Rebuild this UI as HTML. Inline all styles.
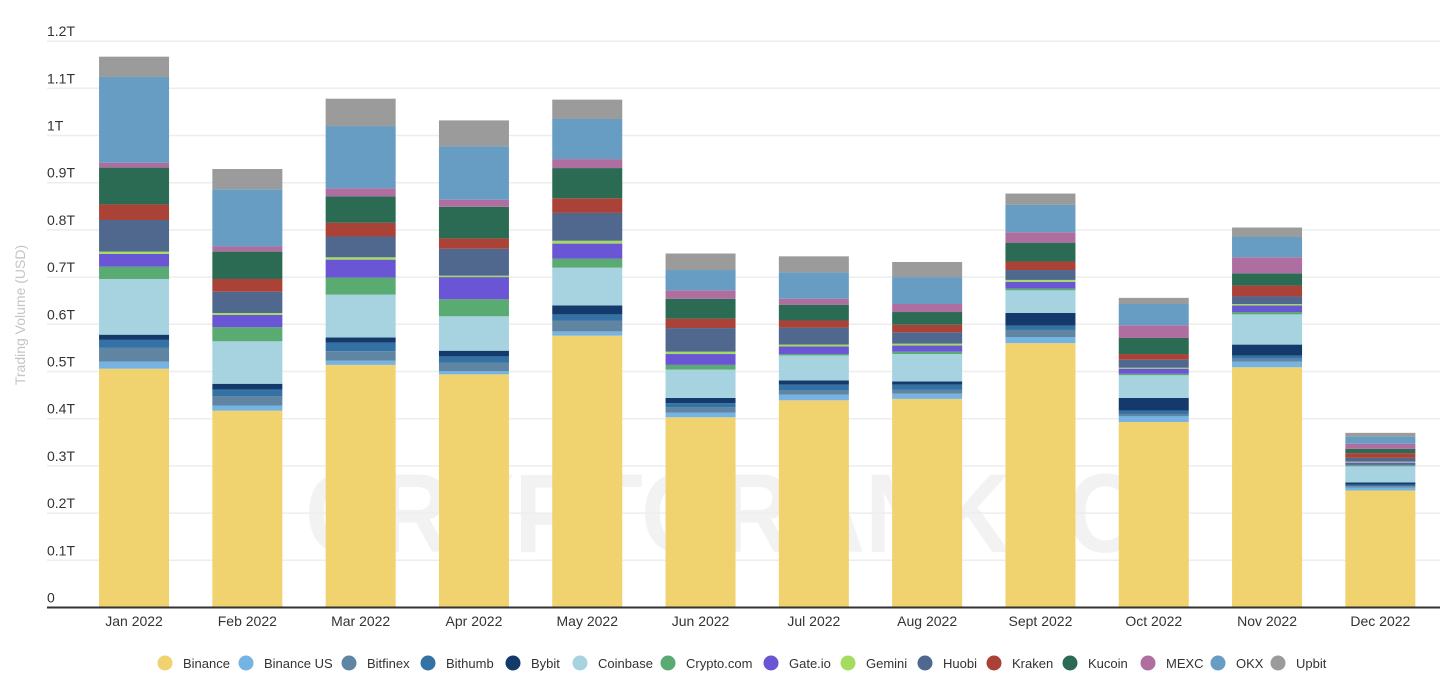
<!DOCTYPE html>
<html><head><meta charset="utf-8"><style>
body{margin:0;background:#fff;width:1456px;height:684px;overflow:hidden;font-family:"Liberation Sans",sans-serif}
svg{display:block}
</style></head><body>
<svg id="chart" width="1456" height="684" xmlns="http://www.w3.org/2000/svg">
<text x="305" y="552" textLength="840" lengthAdjust="spacingAndGlyphs" font-size="112" font-weight="bold" fill="#000" fill-opacity="0.05">CRYPTORANK.IO</text>
<g id="grid"></g><g id="bars"></g><g id="axes"></g><g id="legend"></g>
<text transform="translate(25,315) rotate(-90)" text-anchor="middle" font-size="14" fill="#c4c4c4">Trading Volume (USD)</text>
</svg>
<script>
const months=["Jan 2022","Feb 2022","Mar 2022","Apr 2022","May 2022","Jun 2022","Jul 2022","Aug 2022","Sept 2022","Oct 2022","Nov 2022","Dec 2022"];
const seriesNames=["Binance","Binance US","Bitfinex","Bithumb","Bybit","Coinbase","Crypto.com","Gate.io","Gemini","Huobi","Kraken","Kucoin","MEXC","OKX","Upbit"];
const seriesColors=["#f0d26e","#74b3e2","#5f85a3","#3472a6","#143a6b","#a6d3df","#5aab72","#6a55d4","#a3dd5f","#51688e","#ab4237","#2c6b53","#ae6fa0","#679dc2","#9b9b9b"];
// values in billions USD
const binance=[506,417,514,494,576,403,439,442,560,393,509,248];
const binanceUS=[15,11,9,7,9,10,12,11,13,12,12,6];
const bitfinex=[29,20,20,18,23,11,9,8,15,5,6,3];
const bithumb=[17,14,18,13,13,9,12,11,9,7,7,3];
const bybit=[11,12,11,12,19,11,9,7,27,27,23,5];
const coinbase=[118,90,91,73,80,60,53,58,48,48,64,34];
const cryptocom=[26,30,36,36,19,10,3,5,4,3,5,3];
const gateio=[27,26,38,47,32,23,16,13,14,11,14,5];
const gemini=[5,4,5,3,6,5,4,4,4,2,3,2];
const huobi=[67,45,44,57,59,50,36,24,21,17,16,8];
const kraken=[33,27,29,22,31,20,15,16,18,12,23,10];
const kucoin=[78,58,56,67,64,42,33,27,40,34,26,9];
const mexc=[10,11,17,15,19,18,13,17,22,27,34,11];
const okx=[182,121,132,113,85,43,56,57,58,45,43,15];
const upbit=[43,43,58,55,41,35,34,32,24,13,20,8];
const series=[binance,binanceUS,bitfinex,bithumb,bybit,coinbase,cryptocom,gateio,gemini,huobi,kraken,kucoin,mexc,okx,upbit];
const yTicks=[0,100,200,300,400,500,600,700,800,900,1000,1100,1200];
const yTickLabels=["0","0.1T","0.2T","0.3T","0.4T","0.5T","0.6T","0.7T","0.8T","0.9T","1T","1.1T","1.2T"];

const NS="http://www.w3.org/2000/svg";
const y0=607.5, pxPerB=0.472;
const yScale=v=>y0-v*pxPerB;
const x0=77.4, band=113.3, barW=70;
const xScale=i=>x0+band*i+band/2;
function mk(tag,attrs,parent,txt){const e=document.createElementNS(NS,tag);for(const k in attrs)e.setAttribute(k,attrs[k]);if(txt!==undefined)e.textContent=txt;parent.appendChild(e);return e;}

const grid=document.getElementById('grid');
yTicks.forEach((t,i)=>{
  const y=yScale(t);
  if(t>0){const l=mk('line',{x1:47,x2:1440,y1:y,y2:y,stroke:'#ededed','stroke-width':1.5},grid);
  
  }
  const tx=mk('text',{x:47,y:y-5,'font-size':14,fill:'#333'},grid,yTickLabels[i]);
  
  
});

const bars=document.getElementById('bars');
months.forEach((m,i)=>{
  let cum=0;
  series.forEach((s,j)=>{
    const v=s[i];
    const yt=yScale(cum+v), yb=yScale(cum);
    const r=mk('rect',{x:xScale(i)-barW/2,y:yt,width:barW,height:Math.max(0,yb-yt),fill:seriesColors[j]},bars);
    
    
    cum+=v;
  });
});

const axes=document.getElementById('axes');
const ax=mk('line',{x1:47,x2:1440,y1:y0,y2:y0,stroke:'#333','stroke-width':2},axes);


months.forEach((m,i)=>{
  const t=mk('text',{x:xScale(i),y:626,'text-anchor':'middle','font-size':14,fill:'#333'},axes,m);
  
  
});

const legendX=[165,246,349,428,513,580,668,771,848,925,994,1070,1148,1218,1278];
const legend=document.getElementById('legend');
seriesNames.forEach((n,j)=>{
  const g=mk('g',{},legend);
  
  
  mk('circle',{cx:legendX[j],cy:663,r:7.5,fill:seriesColors[j]},g);
  mk('text',{x:legendX[j]+18,y:668,'font-size':13,fill:'#333'},g,n);
});
</script>
</body></html>
